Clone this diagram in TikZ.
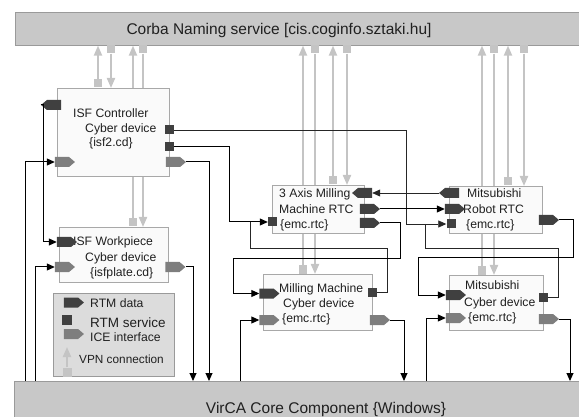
\documentclass[tikz,border=0pt]{standalone}
\usepackage{fontspec}
\setmainfont{Liberation Sans}
\usetikzlibrary{shapes.symbols,arrows.meta}

\definecolor{barfill}{HTML}{C8C8C8}
\definecolor{barline}{HTML}{9A9A9A}
\definecolor{boxfill}{HTML}{FAFAFA}
\definecolor{boxline}{HTML}{A8A8A8}
\definecolor{rtmdark}{HTML}{404040}
\definecolor{icegray}{HTML}{7E7E7E}
\definecolor{vpngray}{HTML}{C4C4C4}
\definecolor{legfill}{HTML}{DCDCDC}
\definecolor{inkgray}{HTML}{202020}

\pgfdeclarelayer{back}
\pgfsetlayers{back,main}

\begin{document}
\begin{tikzpicture}[x=1pt,y=-1pt,
  bar/.style={draw=barline, fill=barfill, line width=0.6pt, inner sep=0, anchor=north west},
  dev/.style={draw=boxline, fill=boxfill, line width=0.6pt, inner sep=0, anchor=north west},
  legbox/.style={draw=barline, fill=legfill, line width=0.6pt, inner sep=0, anchor=north west},
  devtxt/.style={font=\fontsize{12.2}{15}\selectfont, text=inkgray, inner sep=0, anchor=base west},
  bartxt/.style={font=\fontsize{15.5}{18}\selectfont, text=inkgray, inner sep=0, anchor=base},
  data/.style={shape=signal, signal to=east, signal pointer angle=80, fill=rtmdark, minimum width=20pt, minimum height=10pt, inner sep=0},
  datal/.style={data, signal to=west},
  ice/.style={data, fill=icegray},
  svc/.style={fill=rtmdark, minimum size=9pt, inner sep=0},
  vsq/.style={fill=vpngray, minimum size=8pt, inner sep=0},
  vpn/.style={draw=vpngray, line width=2pt, -{Triangle[length=10pt,width=8pt]}},
  conn/.style={draw=black, line width=1pt},
  thin/.style={draw=black!85, line width=0.7pt},
  arr/.style={conn, -{Triangle[length=8pt,width=7pt]}},
  tarr/.style={thin, -{Triangle[length=8pt,width=7pt]}}
]
\useasboundingbox (0,0) rectangle (579,417);

% ---- service bars
\node[bar, minimum width=564pt, minimum height=33pt] (cns) at (14.5,12) {};
\node[bartxt] (cnsT) at (279,35) {Corba Naming service [cis.coginfo.sztaki.hu]};
\node[bar, minimum width=566pt, minimum height=40pt] (vcc) at (14,381) {};
\node[bartxt] (vccT) at (326,413) {VirCA Core Component \{Windows\}};

% ---- device boxes
\node[dev, minimum width=112pt, minimum height=88pt] (ctl) at (57,88) {};
\node[dev, minimum width=109pt, minimum height=55pt] (wp) at (59,227) {};
\node[dev, minimum width=92pt, minimum height=48pt] (ax3) at (272,185) {};
\node[dev, minimum width=109pt, minimum height=56pt] (mill) at (263,274) {};
\node[dev, minimum width=93pt, minimum height=47pt] (rob) at (449,186) {};
\node[dev, minimum width=94pt, minimum height=55pt] (mit) at (449,275) {};

% ---- box texts
\node[devtxt] (ctlT1) at (73,118) {ISF Controller};
\node[devtxt] (ctlT2) at (85,132.5) {Cyber device};
\node[devtxt] (ctlT3) at (89,147) {\{isf2.cd\}};
\node[devtxt] (wpT1) at (73,246) {ISF Workpiece};
\node[devtxt] (wpT2) at (85,261.5) {Cyber device};
\node[devtxt] (wpT3) at (90,276.5) {\{isfplate.cd\}};
\node[devtxt] (axT1) at (279,197.5) {3 Axis Milling};
\node[devtxt] (axT2) at (279,214) {Machine RTC};
\node[devtxt] (axT3) at (280,229) {\{emc.rtc\}};
\node[devtxt] (robT1) at (467,197.5) {Mitsubishi};
\node[devtxt] (robT2) at (463,214) {Robot RTC};
\node[devtxt] (robT3) at (466,229) {\{emc.rtc\}};
\node[devtxt] (millT1) at (279,292) {Milling Machine};
\node[devtxt] (millT2) at (283,307) {Cyber device};
\node[devtxt] (millT3) at (282,322) {\{emc.rtc\}};
\node[devtxt] (mitT1) at (465,289) {Mitsubishi};
\node[devtxt] (mitT2) at (464,306) {Cyber device};
\node[devtxt] (mitT3) at (468,321) {\{emc.rtc\}};

% ---- VPN connections (behind the boxes)
\node[vsq] (cv1) at (98,83) {};
\node[vsq] (cv2) at (111,49.5) {};
\node[vsq] (wv1) at (133,222.5) {};
\node[vsq] (wv2) at (143,49.5) {};
\node[vsq] (av1) at (333,180.5) {};
\node[vsq] (av2) at (347,49.5) {};
\node[vsq] (mv1) at (303,269.5) {};
\node[vsq] (mv2) at (315,49.5) {};
\node[vsq] (rv1) at (508,181.5) {};
\node[vsq] (rv2) at (524,49.5) {};
\node[vsq] (tv1) at (482,270.5) {};
\node[vsq] (tv2) at (494,49.5) {};
\begin{pgfonlayer}{back}
  \draw[vpn] (cv1.north) -- (cv1 |- cns.south);
  \draw[vpn] (cv2.south) -- (cv2 |- ctl.north);
  \draw[vpn] (wv1.north) -- (wv1 |- cns.south);
  \draw[vpn] (wv2.south) -- (wv2 |- wp.north);
  \draw[vpn] (av1.north) -- (av1 |- cns.south);
  \draw[vpn] (av2.south) -- (av2 |- ax3.north);
  \draw[vpn] (mv1.north) -- (mv1 |- cns.south);
  \draw[vpn] (mv2.south) -- (mv2 |- mill.north);
  \draw[vpn] (rv1.north) -- (rv1 |- cns.south);
  \draw[vpn] (rv2.south) -- (rv2 |- rob.north);
  \draw[vpn] (tv1.north) -- (tv1 |- cns.south);
  \draw[vpn] (tv2.south) -- (tv2 |- mit.north);
\end{pgfonlayer}

% ---- ports: ISF Controller
\node[datal] (cDo) at (54,105) {};
\node[ice] (cIi) at (62,162) {};
\node[ice] (cIo) at (173,162) {};
\node[svc] (cS1) at (169.5,130) {};
\node[svc] (cS2) at (169.5,147) {};
% ISF Workpiece
\node[data] (wDi) at (64,242) {};
\node[ice] (wIi) at (62,267) {};
\node[ice] (wIo) at (172.5,267) {};
% 3 Axis Milling Machine RTC
\node[datal] (aDi) at (365,193) {};
\node[data] (aDo1) at (367,209) {};
\node[data] (aDo2) at (367,223) {};
\node[svc] (aS) at (272.5,222) {};
% Mitsubishi Robot RTC
\node[datal] (rDo) at (452,193) {};
\node[data] (rDi) at (452,209) {};
\node[svc] (rS) at (451,224) {};
\node[data] (rDo2) at (546,220) {};
% Milling Machine Cyber device
\node[data] (mDi) at (266.5,293.5) {};
\node[ice] (mIi) at (266.5,320) {};
\node[ice] (mIo) at (377,320) {};
\node[svc] (mS) at (372.5,292) {};
% Mitsubishi Cyber device
\node[data] (tDi) at (453,295) {};
\node[ice] (tIi) at (453,318) {};
\node[ice] (tIo) at (546,319) {};
\node[svc] (tS) at (543,297) {};

% ---- taps on the core bar
\coordinate (b25) at (25,381);
\coordinate (b35) at (35,381);
\coordinate (b193) at (193,381);
\coordinate (b209) at (209,381);
\coordinate (b240) at (240,381);
\coordinate (b404) at (404,381);
\coordinate (b426) at (426,381);
\coordinate (b570) at (570,381);
% junctions on the service lines
\coordinate (jA) at (250,222);
\coordinate (jR) at (425,224);

% ---- connectors
\draw[tarr] (cS1.east) -| (406,224) -- (rS.west);
\draw[thin] (jR) |- (558,248) |- (tS.east);
\draw[arr] (cS2.east) -| (229,222) -- (aS.west);
\draw[thin] (jA) |- (387,248) |- (mS.east);
\draw[arr] (cIo.east) -| (b209);
\draw[arr] (wIo.east) -| (b193);
\draw[arr] (b25) |- (cIi.west);
\draw[arr] (cDo.west) -- (43,105) |- (wDi.west);
\draw[arr] (b35) |- (wIi.west);
\draw[tarr] (rDo.west) -- (aDi.east);
\draw[arr] (aDo1.east) -- (rDi.west);
\draw[arr] (aDo2.east) -| (400,259) -- (233,259) |- (mDi.west);
\draw[arr] (rDo2.east) -| (573,258) -- (418,258) |- (tDi.west);
\draw[arr] (b240) |- (mIi.west);
\draw[arr] (mIo.east) -| (b404);
\draw[arr] (b426) |- (tIi.west);
\draw[arr] (tIo.east) -| (b570);

% ---- legend
\node[legbox, minimum width=121pt, minimum height=83pt] (leg) at (53,293) {};
\node[data] (lgD) at (71,302.5) {};
\node[svc, minimum size=10pt] (lgS) at (67,319.5) {};
\node[ice] (lgI) at (71,334) {};
\node[vsq, minimum size=9pt] (lgV) at (67,372) {};
\coordinate (lgVt) at (67,347);
\draw[vpn] (lgV.north) -- (lgVt);
\node[devtxt] (lgDT) at (90,307.5) {RTM data};
\node[devtxt, font=\fontsize{13.5}{15}\selectfont] (lgST) at (90,327) {RTM service};
\node[devtxt] (lgIT) at (90,341) {ICE interface};
\node[devtxt, font=\fontsize{11.8}{15}\selectfont] (lgVT) at (79,363.5) {VPN connection};
\end{tikzpicture}
\end{document}
